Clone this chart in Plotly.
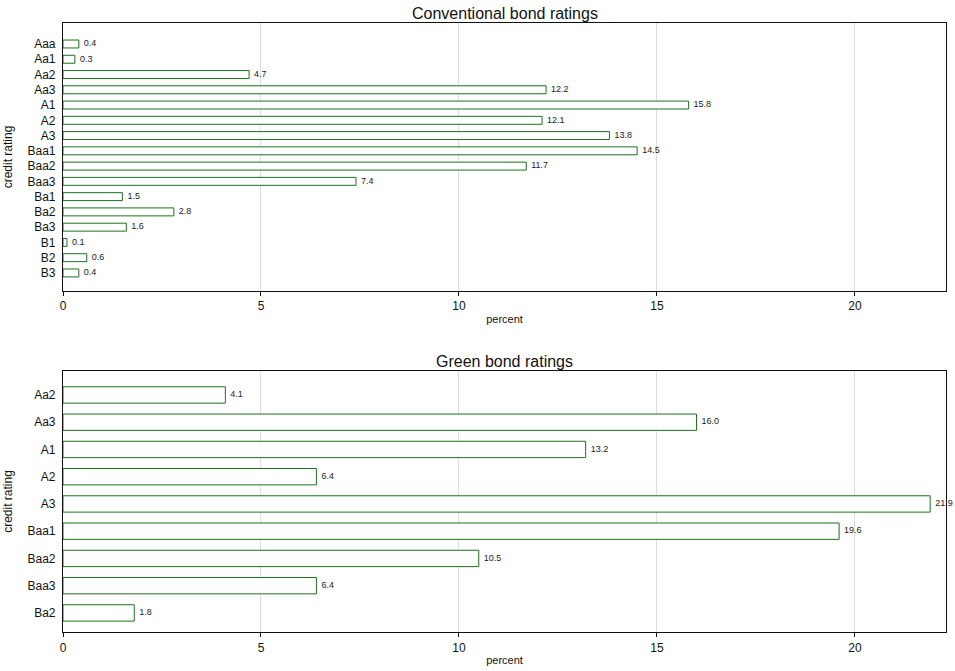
import plotly.graph_objects as go

conv_cats = ["Aaa", "Aa1", "Aa2", "Aa3", "A1", "A2", "A3", "Baa1", "Baa2", "Baa3",
             "Ba1", "Ba2", "Ba3", "B1", "B2", "B3"]
conv_vals = [0.4, 0.3, 4.7, 12.2, 15.8, 12.1, 13.8, 14.5, 11.7, 7.4, 1.5, 2.8, 1.6, 0.1, 0.6, 0.4]

green_cats = ["Aa2", "Aa3", "A1", "A2", "A3", "Baa1", "Baa2", "Baa3", "Ba2"]
green_vals = [4.1, 16.0, 13.2, 6.4, 21.9, 19.6, 10.5, 6.4, 1.8]

titles = ["Conventional bond ratings", "Green bond ratings"]
x_ticks = [0, 5, 10, 15, 20]

FONT = "Liberation Sans, Arial, sans-serif"
EDGE = "#1f6f1f"

fig = go.Figure()

def add_panel(cats, vals, xa, ya, width):
    fig.add_trace(go.Bar(
        y=cats, x=vals, orientation="h", width=width,
        marker=dict(color="white", line=dict(color=EDGE, width=1)),
        xaxis=xa, yaxis=ya, showlegend=False, hoverinfo="x+y",
    ))
    fig.add_trace(go.Scatter(
        y=cats, x=vals, mode="text",
        text=["  %.1f" % v for v in vals], textposition="middle right",
        textfont=dict(size=9, color="#222", family=FONT),
        xaxis=xa, yaxis=ya, showlegend=False, cliponaxis=False, hoverinfo="skip",
    ))

add_panel(conv_cats, conv_vals, "x", "y", 0.52)
add_panel(green_cats, green_vals, "x2", "y2", 0.6)

xcommon = dict(range=[0, 22.3], tickvals=x_ticks, showgrid=True, gridcolor="#dddddd",
               gridwidth=1, showline=True, linecolor="#111", linewidth=1.2, mirror=True,
               ticks="outside", ticklen=4, tickcolor="#111", zeroline=False, automargin=False,
               tickfont=dict(size=12, color="#111", family=FONT),
               title=dict(text="percent", font=dict(size=11, color="#111", family=FONT), standoff=2))
ycommon = dict(showline=True, linecolor="#111", linewidth=1.2, mirror=True, ticks="",
               showgrid=False, tickfont=dict(size=12, color="#111", family=FONT),
               ticklabelstandoff=4, automargin=False,
               title=dict(text="credit rating", font=dict(size=12, color="#111", family=FONT), standoff=12))

n1 = len(conv_cats)
n2 = len(green_cats)
fig.update_layout(
    width=955, height=671,
    margin=dict(l=63, r=9, t=23, b=39),
    paper_bgcolor="white", plot_bgcolor="white",
    font=dict(family=FONT),
    bargap=0.4,
    xaxis=dict(**xcommon, domain=[0, 1], anchor="y"),
    yaxis=dict(**ycommon, domain=[0.56, 1], anchor="x", type="category",
               categoryorder="array", categoryarray=conv_cats[::-1],
               range=[-1.18, n1 - 1 + 1.375]),
    xaxis2=dict(**xcommon, domain=[0, 1], anchor="y2"),
    yaxis2=dict(**ycommon, domain=[0, 0.4286], anchor="x2", type="category",
                categoryorder="array", categoryarray=green_cats[::-1],
                range=[-0.70, n2 - 1 + 0.88]),
    annotations=[
        dict(text=titles[0], x=0.5, y=1.0, xref="paper", yref="paper", xanchor="center",
             yanchor="bottom", yshift=-1, showarrow=False, font=dict(size=16, color="#111", family=FONT)),
        dict(text=titles[1], x=0.5, y=0.4286, xref="paper", yref="paper", xanchor="center",
             yanchor="bottom", yshift=-1, showarrow=False, font=dict(size=16, color="#111", family=FONT)),
    ],
)

fig.write_html("out.html")
